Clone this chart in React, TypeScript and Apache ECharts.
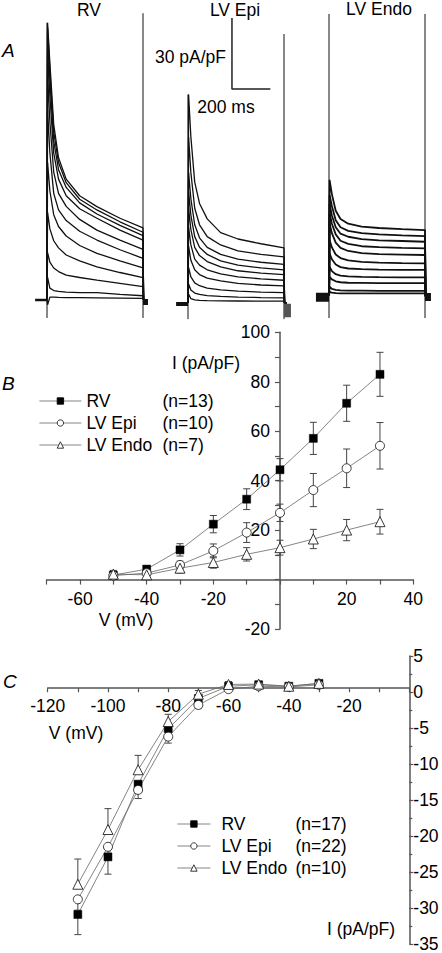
import React, { useEffect, useRef } from "react";
import * as echarts from "echarts";

const FONT = '"Liberation Sans", Arial, Helvetica, sans-serif';
const FS = 17.5;

// ---------- Panel A: current traces (ms, pA/pF) ----------
const traceTimes = [3, 15, 35, 60, 100, 170, 260, 380, 500];

const rvTraces = [
  [117, 100, 74, 60, 51, 44, 39.4, 34.5, 30.4],
  [115, 97, 71, 58, 49.5, 42.5, 38, 33, 28.6],
  [112, 93, 67, 55, 47.5, 41, 36.3, 31.5, 27.2],
  [105, 86, 62, 51, 44, 38.5, 34.5, 29.5, 25.3],
  [95, 75, 54, 45, 39.5, 34, 29.5, 25.3, 21.4],
  [80, 62, 45, 38, 33.5, 29, 25.3, 21.2, 17.6],
  [58, 46, 36, 31, 27, 23, 19.7, 16.5, 13.6],
  [37, 30, 25, 22, 19, 16.5, 14, 11.6, 9.4],
  [20, 16, 13.5, 12, 10.5, 9.5, 8.4, 7, 5.6],
  [9.5, 5, 4, 3.6, 3.3, 3.1, 3.1, 2.4, 1.8],
  [-2, 1.2, 1.2, 1.1, 1.0, 1.0, 0.9, 0.8, 0.7],
];

const epiTraces = [
  [88, 70, 51, 42, 35.5, 29.7, 27, 25, 23.3],
  [70, 55, 40, 33, 28, 24.5, 22, 20.5, 19.5],
  [55, 44, 33, 27.5, 23.5, 20.5, 18.5, 17.2, 16.3],
  [47, 37, 28, 23.5, 20.5, 17.8, 16, 14.8, 14],
  [40, 31, 23.5, 20, 17.5, 15.2, 13.6, 12.6, 12],
  [32, 24.5, 18.5, 16, 14, 12.3, 11, 10.2, 9.6],
  [24, 18, 14, 12, 10.5, 9.3, 8.3, 7.6, 7.2],
  [15, 11, 8.5, 7.3, 6.3, 5.5, 5, 4.6, 4.4],
  [8, 5.5, 4.2, 3.6, 3.1, 2.8, 2.5, 2.3, 2.2],
  [3.8, 1.8, 1.3, 1.1, 1, 0.9, 0.85, 0.8, 0.8],
];

const endoTraces = [
  [49, 43, 36, 32.5, 30.5, 29.3, 28.7, 28.2, 27.8],
  [42.6, 38, 32, 29, 27.5, 26.5, 26, 25.6, 25.3],
  [39, 34, 29, 26.3, 25, 24, 23.5, 23.2, 22.9],
  [35, 30.5, 26, 23.3, 22, 21, 20.6, 20.3, 20.1],
  [30.7, 26.5, 22.5, 20.3, 19, 18.1, 17.7, 17.5, 17.3],
  [23.6, 20.5, 17.5, 16, 15, 14.4, 14.1, 13.9, 13.8],
  [18, 15.5, 13.3, 12.2, 11.6, 11.3, 11.1, 11, 11],
  [12.4, 10.5, 9.2, 8.6, 8.3, 8.1, 8, 7.9, 7.9],
  [8.1, 7, 6.2, 5.8, 5.6, 5.5, 5.4, 5.4, 5.4],
  [3.9, 3, 2.6, 2.4, 2.3, 2.3, 2.2, 2.2, 2.2],
  [1.8, 1.4, 1.2, 1.1, 1.1, 1.1, 1.1, 1.1, 1.1],
];

// capacitive artifacts: [low, high] at pulse on (0 ms) and pulse off (500 ms)
const rvArtifacts = { on: [-7.6, 117], off: [-7.6, 121] };
const epiArtifacts = { on: [-6.8, 88], off: [-6.8, 113.5] };
const endoArtifacts = { on: [-9.3, 119], off: [-9.3, 119] };

// scale bar: 200 ms, 30 pA/pF
const scaleBarTime = 200;
const scaleBarCurrent = 30;
const scaleBarOrigin = [229, 90.3];

// ---------- Panel B: peak current vs voltage ----------
const bVoltage = [-50, -40, -30, -20, -10, 0, 10, 20, 30];
const bRV = [1.8, 4.2, 12, 22.4, 32.5, 44.4, 57.1, 71.3, 83];
const bRVErr = [1.5, 1.5, 2.5, 3.5, 4.2, 4.5, 6.5, 7.3, 8.9];
const bEpi = [1.6, 2.6, 5.9, 11.6, 19, 27, 36.2, 45, 54.1];
const bEpiErr = [1.5, 1.5, 1.5, 2.8, 4, 3.5, 6.7, 7.8, 9.4];
const bEndo = [2.2, 1.9, 4.6, 6.9, 10.2, 12.9, 16.4, 20, 23.4];
const bEndoErr = [1.5, 1.2, 2, 2.3, 2.7, 3, 3.9, 4.3, 5];
const bN = ["(n=13)", "(n=10)", "(n=7)"];

// ---------- Panel C: inward rectifier ----------
const cVoltage = [-110, -100, -90, -80, -70, -60, -50, -40, -30];
const cRV = [-30.9, -22.9, -12.8, -5.1, -0.9, 0.8, 1.0, 0.8, 1.2];
const cRVErrDown = [2.8, 2.4, 1.2, 0.8, 0.5, 0.3, 0.3, 0.3, 0.3];
const cEpi = [-28.8, -21.5, -13.6, -6.2, -1.8, 0.4, 0.8, 0.7, 1.0];
const cEpiErrDown = [1.5, 1.5, 1.2, 0.9, 0.5, 0.3, 0.3, 0.3, 0.3];
const cEndo = [-26.7, -19.1, -10.8, -4.1, -0.3, 1.05, 1.1, 0.8, 1.2];
const cEndoErrUp = [3.5, 2.9, 2.0, 1.0, 0.5, 0.4, 0.4, 0.3, 0.3];
const cN = ["(n=17)", "(n=22)", "(n=10)"];

const groupNames = ["RV", "LV Epi", "LV Endo"];

// axis ranges
const bXRange = [-70, 40];
const bYRange = [-20, 100];
const cXRange = [-120, 0];
const cYRange = [-35, 5];

function buildOption() {
  const series: any[] = [];

  const addLine = (idx: number, data: any[], color: string, width: number) => {
    series.push({
      type: "line",
      xAxisIndex: idx,
      yAxisIndex: idx,
      data,
      symbol: "none",
      silent: true,
      lineStyle: { color, width },
      z: 2,
    });
  };

  const panelA = (
    idx: number,
    traces: number[][],
    width: number,
    art: { on: number[]; off: number[] },
    preStart: number,
    preVal: number,
    preWidth: number
  ) => {
    addLine(idx, [[preStart, preVal], [0, preVal]], "#111", preWidth);
    traces.forEach((v) => {
      const d: any[] = [[0, 0]];
      traceTimes.forEach((t, i) => d.push([t, v[i]]));
      d.push([503, 0]);
      d.push([515, 0]);
      addLine(idx, d, "#111", width);
    });
    addLine(idx, [[0, art.on[0]], [0, art.on[1]]], "#111", 1);
    addLine(idx, [[500, art.off[0]], [500, art.off[1]]], "#111", 1);
  };

  panelA(0, rvTraces, 1.3, rvArtifacts, -62, 0, 2.5);
  addLine(0, [[500, -0.8], [526, -0.8]], "#111", 6);

  panelA(1, epiTraces, 1.3, epiArtifacts, -62, -0.4, 4);
  addLine(1, [[518, -0.3], [518, -6]], "#555", 7);
  addLine(
    1,
    [
      [scaleBarOrigin[0], scaleBarOrigin[1] + scaleBarCurrent],
      [scaleBarOrigin[0], scaleBarOrigin[1]],
      [scaleBarOrigin[0] + scaleBarTime, scaleBarOrigin[1]],
    ],
    "#222",
    1.5
  );

  panelA(2, endoTraces, 1.8, endoArtifacts, -68, -0.5, 9);
  addLine(2, [[500, -0.4], [531, -0.4]], "#111", 8);

  // error bar custom series
  const errSeries = (idx: number, data: any[]) => ({
    type: "custom",
    xAxisIndex: idx,
    yAxisIndex: idx,
    data,
    silent: true,
    z: 3,
    encode: { x: 0, y: 1 },
    renderItem: (params: any, api: any) => {
      const x = api.value(0);
      const y = api.value(1);
      const up = api.value(2);
      const dn = api.value(3);
      const top = api.coord([x, y + up]);
      const bot = api.coord([x, y - dn]);
      const cap = 3.5;
      const st = { stroke: "#444", lineWidth: 1 };
      const children: any[] = [
        { type: "line", shape: { x1: top[0], y1: top[1], x2: bot[0], y2: bot[1] }, style: st },
      ];
      if (up > 0)
        children.push({ type: "line", shape: { x1: top[0] - cap, y1: top[1], x2: top[0] + cap, y2: top[1] }, style: st });
      if (dn > 0)
        children.push({ type: "line", shape: { x1: bot[0] - cap, y1: bot[1], x2: bot[0] + cap, y2: bot[1] }, style: st });
      return { type: "group", children };
    },
  });

  const markerStyles = [
    { symbol: "rect", symbolSize: 8, itemStyle: { color: "#000", borderColor: "#000", borderWidth: 0.5 } },
    { symbol: "circle", symbolSize: 9, itemStyle: { color: "#fff", borderColor: "#222", borderWidth: 0.9 } },
    { symbol: "triangle", symbolSize: 10, itemStyle: { color: "#fff", borderColor: "#222", borderWidth: 0.9 } },
  ];

  const bVals = [bRV, bEpi, bEndo];
  const bErrs = [bRVErr, bEpiErr, bEndoErr];
  const bNames = ["bRV", "bEpi", "bEndo"];
  bVals.forEach((vals, k) => {
    series.push(errSeries(3, bVoltage.map((v, i) => [v, vals[i], bErrs[k][i], bErrs[k][i]])));
  });
  bVals.forEach((vals, k) => {
    series.push({
      type: "line",
      name: bNames[k],
      xAxisIndex: 3,
      yAxisIndex: 3,
      data: bVoltage.map((v, i) => [v, vals[i]]),
      ...markerStyles[k],
      showAllSymbol: true,
      lineStyle: { color: "#666", width: 0.8 },
      z: 4,
      silent: true,
    });
  });

  const cVals = [cRV, cEpi, cEndo];
  const cErrUp = [cRV.map(() => 0), cEpi.map(() => 0), cEndoErrUp];
  const cErrDn = [cRVErrDown, cEpiErrDown, cEndo.map(() => 0)];
  const cNames = ["cRV", "cEpi", "cEndo"];
  cVals.forEach((vals, k) => {
    series.push(errSeries(4, cVoltage.map((v, i) => [v, vals[i], cErrUp[k][i], cErrDn[k][i]])));
  });
  cVals.forEach((vals, k) => {
    series.push({
      type: "line",
      name: cNames[k],
      xAxisIndex: 4,
      yAxisIndex: 4,
      data: cVoltage.map((v, i) => [v, vals[i]]),
      ...markerStyles[k],
      showAllSymbol: true,
      lineStyle: { color: "#666", width: 0.8 },
      z: 4,
      silent: true,
    });
  });

  const hiddenX = { type: "value", min: -70, max: 530, show: false };
  const hiddenY = { type: "value", min: -10, max: 122, show: false };

  const axisLine = { show: true, onZero: false, lineStyle: { color: "#555", width: 1.5 } };
  const labelStyle = { color: "#000", fontSize: FS, fontFamily: FONT };
  const tickStyle = { color: "#555", width: 1.2 };

  const aGridW = 600 * 0.192;
  const aGridH = 132 * 2.37;

  const gridB = { left: 46.7, top: 332.3, width: 366.6, height: 296.7 };
  const gridC = { left: 47.7, top: 656, width: 361.6, height: 292.3 };

  // place axes on the other axis' zero
  const bXOffset = -gridB.height * (0 - bYRange[0]) / (bYRange[1] - bYRange[0]);
  const bYOffset = -gridB.width * (0 - bXRange[0]) / (bXRange[1] - bXRange[0]);
  const cXOffset = -gridC.height * (0 - cYRange[0]) / (cYRange[1] - cYRange[0]);
  const cYOffset = -gridC.width * (cXRange[1] - 0) / (cXRange[1] - cXRange[0]);

  const text = (t: string, x: number, y: number, align: string, italic = false, size = FS) => ({
    type: "text",
    x,
    y,
    silent: true,
    style: {
      text: t,
      x: 0,
      y: 0,
      textAlign: align,
      textVerticalAlign: "middle",
      fontSize: size,
      fontFamily: FONT,
      fontStyle: italic ? "italic" : "normal",
      fill: "#000",
    },
  });

  const legendCommon = (names: string[], ns: string[], left: number, top: number, itemWidth: number, aWidth: number, pad: number) => ({
    orient: "vertical",
    left,
    top,
    padding: 0,
    itemWidth,
    itemHeight: 8,
    itemGap: 2,
    selectedMode: false,
    data: names,
    lineStyle: { color: "#666", width: 0.8 },
    itemStyle: { borderWidth: 0.9 },
    formatter: (name: string) => {
      const k = names.indexOf(name);
      return `{a|${groupNames[k]}}{b|${ns[k]}}`;
    },
    textStyle: {
      color: "#000",
      fontSize: FS,
      fontFamily: FONT,
      lineHeight: 20,
      rich: {
        a: { width: aWidth, fontSize: FS, fontFamily: FONT, color: "#000", padding: [0, 0, 0, pad] },
        b: { fontSize: FS, fontFamily: FONT, color: "#000" },
      },
    },
  });

  const labelFmt20 = (v: number) => (v % 20 === 0 && v !== 0 ? String(v) : "");

  return {
    animation: false,
    backgroundColor: "#fff",
    grid: [
      { left: 33.56, top: 300 - 122 * 2.37, width: aGridW, height: aGridH },
      { left: 174.56, top: 303 - 122 * 2.37, width: aGridW, height: aGridH },
      { left: 315.56, top: 296 - 122 * 2.37, width: aGridW, height: aGridH },
      gridB,
      gridC,
    ],
    xAxis: [
      { ...hiddenX, gridIndex: 0 },
      { ...hiddenX, gridIndex: 1 },
      { ...hiddenX, gridIndex: 2 },
      {
        type: "value",
        gridIndex: 3,
        min: bXRange[0],
        max: bXRange[1],
        interval: 10,
        position: "bottom",
        offset: bXOffset,
        axisLine,
        axisTick: { show: true, length: 5, lineStyle: tickStyle },
        splitLine: { show: false },
        axisLabel: { ...labelStyle, margin: 10, showMinLabel: true, showMaxLabel: true, formatter: labelFmt20 },
      },
      {
        type: "value",
        gridIndex: 4,
        min: cXRange[0],
        max: cXRange[1],
        interval: 10,
        position: "bottom",
        offset: cXOffset,
        axisLine,
        axisTick: { show: true, length: 4, lineStyle: tickStyle },
        splitLine: { show: false },
        axisLabel: { ...labelStyle, margin: 9, showMinLabel: true, showMaxLabel: true, formatter: labelFmt20 },
      },
    ],
    yAxis: [
      { ...hiddenY, gridIndex: 0 },
      { ...hiddenY, gridIndex: 1 },
      { ...hiddenY, gridIndex: 2 },
      {
        type: "value",
        gridIndex: 3,
        min: bYRange[0],
        max: bYRange[1],
        interval: 10,
        position: "left",
        offset: bYOffset,
        axisLine,
        axisTick: { show: true, length: 5, lineStyle: tickStyle },
        splitLine: { show: false },
        axisLabel: { ...labelStyle, margin: 10, showMinLabel: true, showMaxLabel: true, formatter: labelFmt20 },
      },
      {
        type: "value",
        gridIndex: 4,
        min: cYRange[0],
        max: cYRange[1],
        interval: 5,
        position: "right",
        offset: cYOffset,
        axisLine,
        axisTick: { show: true, length: 4, lineStyle: tickStyle },
        minorTick: { show: true, splitNumber: 2, length: 3, lineStyle: tickStyle },
        splitLine: { show: false },
        axisLabel: { ...labelStyle, margin: 4, showMinLabel: true, showMaxLabel: true },
      },
    ],
    legend: [
      legendCommon(["bRV", "bEpi", "bEndo"], bN, 39, 391, 42, 76, 0),
      legendCommon(["cRV", "cEpi", "cEndo"], cN, 177, 814, 33, 74, 6),
    ],
    graphic: [
      text("RV", 89, 10, "center"),
      text("LV Epi", 235, 10, "center"),
      text("LV Endo", 379, 9, "center"),
      text("A", 2, 50, "left", true, 19),
      text("30 pA/pF", 226, 57, "right"),
      text("200 ms", 226, 107, "center"),
      text("B", 2, 383, "left", true, 19),
      text("I (pA/pF)", 206, 363, "center"),
      text("V (mV)", 126, 620, "center"),
      text("C", 3, 681, "left", true, 19),
      text("V (mV)", 76, 733, "center"),
      text("I (pA/pF)", 361, 929, "center"),
    ],
    series,
  };
}

export default function App() {
  const ref = useRef<HTMLDivElement>(null);
  useEffect(() => {
    if (!ref.current) return;
    const chart = echarts.init(ref.current, undefined, { renderer: "svg" });
    chart.setOption(buildOption() as any);
    return () => chart.dispose();
  }, []);
  return (
    <div
      ref={ref}
      style={{ position: "absolute", left: 0, top: 0, width: 442, height: 953, background: "#fff" }}
    />
  );
}
